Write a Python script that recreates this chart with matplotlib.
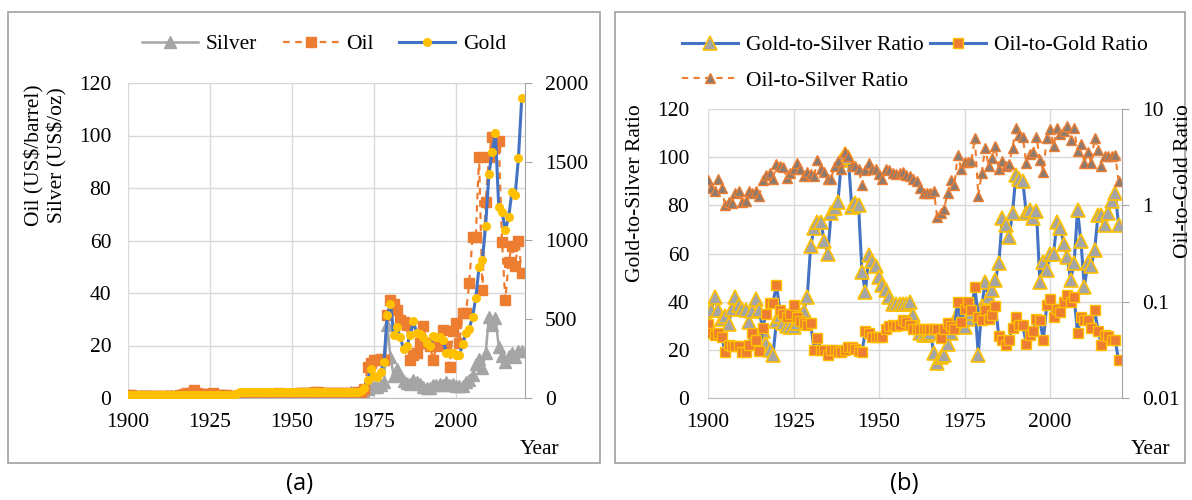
import numpy as np
import matplotlib.pyplot as plt
from matplotlib.patches import Rectangle
from matplotlib.lines import Line2D

plt.rcParams['font.family'] = ['Liberation Serif', 'DejaVu Serif']

# ---- data (end of year values, 1900-2020) ----
years = np.arange(1900, 2021)

gold = [20.67, 20.67, 20.67, 20.67, 20.67, 20.67, 20.67, 20.67, 20.67, 20.67,
        20.67, 20.67, 20.67, 20.67, 20.67, 20.67, 20.67, 20.67, 20.67, 20.67,
        20.67, 20.67, 20.67, 20.67, 20.67, 20.67, 20.67, 20.67, 20.67, 20.67,
        20.67, 20.67, 20.67, 26.33, 35, 35, 35, 35, 35, 35,
        35, 35, 35, 35, 35, 35, 35, 35, 35, 35,
        35, 35, 35, 35, 35, 35, 35, 35, 35, 35,
        35, 35, 35, 35, 35, 35, 35, 35, 41, 35,
        37, 43, 64, 114, 187, 140, 135, 165, 226, 524,
        600, 400, 448, 385, 309, 330, 400, 486, 410, 405,
        390, 350, 332, 392, 385, 385, 368, 288, 287, 288,
        273, 275, 340, 414, 440, 514, 634, 833, 874, 1095,
        1420, 1565, 1680, 1210, 1183, 1065, 1148, 1305, 1288, 1522, 1905]

silver = [0.62, 0.60, 0.53, 0.54, 0.58, 0.61, 0.68, 0.66, 0.53, 0.52,
          0.54, 0.54, 0.62, 0.60, 0.55, 0.51, 0.66, 0.82, 0.97, 1.12,
          1.02, 0.63, 0.68, 0.65, 0.67, 0.69, 0.62, 0.57, 0.59, 0.53,
          0.38, 0.29, 0.28, 0.35, 0.48, 0.64, 0.45, 0.45, 0.43, 0.39,
          0.35, 0.35, 0.38, 0.45, 0.45, 0.52, 0.80, 0.60, 0.75, 0.72,
          0.74, 0.89, 0.85, 0.85, 0.85, 0.91, 0.91, 0.91, 0.89, 0.91,
          0.91, 0.92, 1.08, 1.28, 1.29, 1.29, 1.29, 1.55, 2.14, 1.79,
          1.64, 1.39, 2.04, 3.28, 4.43, 4.21, 4.37, 4.82, 6.0, 28.0,
          15.5, 8.3, 11.0, 8.9, 6.3, 5.9, 5.4, 6.7, 6.1, 5.2,
          4.2, 3.9, 3.7, 5.1, 4.8, 5.2, 4.8, 6.0, 5.0, 5.3,
          4.6, 4.6, 4.7, 6.0, 6.8, 8.8, 12.9, 14.8, 11.3, 17.0,
          31.0, 28.0, 30.5, 19.5, 16.0, 13.8, 16.0, 17.0, 15.5, 18.0, 18.0]

oil = [1.19, 0.96, 0.80, 0.94, 0.86, 0.62, 0.73, 0.72, 0.72, 0.70,
       0.61, 0.61, 0.74, 0.95, 0.81, 0.64, 1.10, 1.56, 1.98, 2.01,
       3.07, 1.73, 1.61, 1.34, 1.43, 1.68, 1.88, 1.30, 1.17, 1.27,
       1.19, 0.65, 0.87, 0.67, 1.00, 0.97, 1.09, 1.18, 1.13, 1.02,
       1.02, 1.14, 1.19, 1.20, 1.21, 1.05, 1.75, 1.65, 1.52, 1.52,
       1.52, 1.52, 1.80, 1.97, 2.03, 1.97, 2.03, 2.27, 2.15, 2.03,
       1.80, 1.80, 1.80, 1.80, 1.80, 1.80, 1.80, 1.80, 1.80, 1.48,
       2.2, 2.4, 3.3, 11.8, 13.3, 14.5, 14.5, 15.0, 14.5, 31.6,
       37.3, 35.8, 33.5, 29.7, 29.0, 27.8, 14.5, 16.5, 17.0, 21.0,
       27.3, 21.0, 20.0, 14.5, 19.7, 21.0, 26.0, 19.7, 12.0, 25.4,
       28.6, 21.0, 32.4, 32.4, 43.8, 61.4, 61.4, 91.8, 41.0, 74.7,
       91.8, 99.5, 95.7, 98.0, 59.4, 37.3, 51.8, 58.0, 50.3, 60.0, 47.6]

gold_silver = [32.4, 36.5, 42, 36.5, 33, 34, 30.7, 37, 42, 38.5,
               37, 36.5, 31.6, 36, 41, 36.5, 28, 22.4, 20, 18,
               31.8, 34, 31, 30, 29.5, 29.5, 31, 34.5, 36, 42,
               63, 70.5, 73, 73, 65, 60, 77, 79, 81.5, 99,
               101.5, 100, 79.5, 81, 80, 52.5, 44, 59.5, 57, 55,
               50.3, 47, 45, 42, 39, 39, 39, 39, 39, 40,
               34.5, 29.5, 27, 26, 26, 27, 18.7, 14.5, 17, 18,
               22.5, 27, 32, 35, 38, 29.6, 33, 35.4, 38, 18,
               38, 48, 42, 45, 49, 56, 74.6, 72, 67, 77,
               92.6, 91, 90, 77, 78, 74.6, 77.5, 48, 56.5, 53,
               60, 60, 73, 70.5, 64, 58.6, 49, 56, 78, 65,
               46, 56, 55, 61.5, 76, 76, 72, 77, 82, 85, 72]

oil_gold = [0.0585, 0.0473, 0.0447, 0.0473, 0.0434, 0.0299, 0.0355, 0.0345, 0.0345, 0.0345,
            0.0299, 0.0299, 0.0355, 0.0473, 0.0398, 0.0307, 0.0531, 0.075, 0.0972, 0.0972,
            0.149, 0.0813, 0.075, 0.0692, 0.075, 0.0917, 0.0692, 0.0631, 0.0596, 0.0579,
            0.0596, 0.0316, 0.0422, 0.0316, 0.0316, 0.0282, 0.0316, 0.0316, 0.0299, 0.0299,
            0.0316, 0.0335, 0.0335, 0.0325, 0.0307, 0.0299, 0.0501, 0.0473, 0.0434, 0.0434,
            0.0434, 0.0434, 0.0516, 0.0562, 0.0579, 0.0562, 0.0579, 0.0649, 0.0613, 0.0579,
            0.0516, 0.0516, 0.0516, 0.0516, 0.0516, 0.0516, 0.0516, 0.0516, 0.0422, 0.0516,
            0.0596, 0.0562, 0.0516, 0.1, 0.0613, 0.0841, 0.1, 0.0818, 0.141, 0.0688,
            0.0646, 0.0818, 0.0668, 0.0729, 0.0891, 0.0439, 0.0398, 0.0355, 0.0398, 0.0531,
            0.0692, 0.0572, 0.0572, 0.0367, 0.0447, 0.0501, 0.0668, 0.0646, 0.0398, 0.0917,
            0.106, 0.0692, 0.0841, 0.078, 0.1, 0.117, 0.0983, 0.112, 0.0473, 0.0692,
            0.0646, 0.0646, 0.0531, 0.0818, 0.0501, 0.0355, 0.0447, 0.0439, 0.0398, 0.0398, 0.0248]

oil_silver = [1.83, 1.50, 1.41, 1.88, 1.50, 1.00, 1.09, 1.06, 1.33, 1.41,
              1.09, 1.12, 1.41, 1.33, 1.41, 1.26, 1.83, 2.06, 2.15, 1.88,
              2.66, 2.58, 2.51, 1.94, 2.15, 2.37, 2.74, 2.37, 2.00, 2.24,
              2.11, 2.00, 2.99, 2.37, 2.24, 1.88, 1.88, 2.58, 2.90, 2.37,
              3.55, 3.25, 2.58, 2.58, 2.37, 1.63, 2.30, 2.74, 2.37, 2.37,
              2.11, 1.88, 2.37, 2.30, 2.15, 2.11, 2.17, 2.24, 2.05, 2.00,
              1.88, 1.78, 1.50, 1.33, 1.33, 1.33, 1.41, 0.75, 0.841, 0.917,
              1.33, 1.83, 1.63, 3.35, 2.37, 2.82, 2.82, 2.90, 5.01, 1.26,
              2.15, 3.98, 2.58, 3.07, 4.10, 2.37, 2.90, 2.58, 2.66, 3.98,
              6.31, 5.31, 5.16, 2.74, 3.44, 3.55, 5.16, 2.99, 2.24, 5.01,
              6.13, 4.17, 6.31, 5.46, 5.96, 6.68, 4.73, 6.31, 3.65, 4.34,
              2.74, 3.55, 2.74, 5.01, 3.76, 2.58, 3.25, 3.27, 3.25, 3.35, 1.78]

BLUE = '#4472C4'
ORANGE = '#ED7D31'
GRAY = '#A5A5A5'
YELLOW = '#FFC000'
BROWN = '#8C7B70'
GRID = '#D9D9D9'
SPINE = '#A6A6A6'
FS = 15.5
W, H = 1192, 500


def fx(px):
    return px / W


def fy(py):
    return 1 - py / H


fig = plt.figure(figsize=(11.92, 5.0), dpi=100)

# panel frames
for x0, x1 in [(8, 600), (615, 1185)]:
    fig.patches.append(Rectangle((fx(x0), fy(463)), fx(x1 - x0), (463 - 12) / H,
                                 transform=fig.transFigure, fill=False,
                                 edgecolor='#A0A0A0', lw=1.2))


def style_axes(ax, axr, lpad, rpad):
    ax.set_xlim(1900, 2021)
    ax.set_xticks(np.arange(1900, 2001, 25))
    ax.grid(True, color=GRID, lw=1)
    ax.set_axisbelow(True)
    for s in ['top', 'left', 'right']:
        ax.spines[s].set_visible(False)
    ax.spines['bottom'].set_color('#BFBFBF')
    ax.tick_params(axis='x', length=0, pad=11, labelsize=FS)
    ax.tick_params(axis='y', length=0, pad=lpad, labelsize=FS)
    for s in ['top', 'left', 'bottom']:
        axr.spines[s].set_visible(False)
    axr.spines['right'].set_color(SPINE)
    axr.tick_params(axis='y', which='major', direction='out', length=5,
                    color=SPINE, pad=rpad, labelsize=FS)
    axr.tick_params(axis='y', which='minor', length=0)


# ---- panel (a) ----
ax1 = fig.add_axes([fx(128), fy(398), fx(525 - 128), (398 - 83) / H])
l_s, = ax1.plot(years, silver, color=GRAY, lw=1.8, marker='^', ms=8,
                mfc=GRAY, mec=GRAY)
l_o, = ax1.plot(years, oil, color=ORANGE, lw=1.6, ls=(0, (3, 2.5)), marker='s',
                ms=6.5, mfc=ORANGE, mec=ORANGE)
ax1.set_ylim(0, 120)
ax1.set_yticks(np.arange(0, 121, 20))
ax1b = ax1.twinx()
l_g, = ax1b.plot(years, gold, color=BLUE, lw=2.2, marker='o', ms=5.5,
                 mfc=YELLOW, mec=YELLOW)
ax1b.set_ylim(0, 2000)
ax1b.set_yticks(np.arange(0, 2001, 500))
style_axes(ax1, ax1b, 12, 9.5)

fig.legend([l_s, l_o, l_g], ['Silver', 'Oil', 'Gold'], loc='center',
           bbox_to_anchor=(fx(324), fy(44)), ncol=3, frameon=False, fontsize=FS,
           handlelength=2.6, handletextpad=0.35, columnspacing=1.2)

fig.text(fx(46), fy(155), 'Oil (US\\$/barrel)\nSilver (US\\$/oz)', rotation=90,
         ha='center', va='center', fontsize=FS, linespacing=1.2,
         multialignment='center')
fig.text(fx(540), fy(450), 'Year', ha='center', va='center', fontsize=FS)
fig.text(fx(300), fy(484), '(a)', ha='center', va='center', fontsize=17,
         family='Open Sans')

# ---- panel (b) ----
ax2 = fig.add_axes([fx(708), fy(398), fx(1122 - 708), (398 - 109) / H])
l_gs, = ax2.plot(years, gold_silver, color=BLUE, lw=2.2, marker='^', ms=10,
                 mfc=GRAY, mec=YELLOW, mew=1.2)
ax2.set_ylim(0, 120)
ax2.set_yticks(np.arange(0, 121, 20))
ax2b = ax2.twinx()
ax2b.set_yscale('log')
l_os, = ax2b.plot(years, oil_silver, color=ORANGE, lw=1.5, ls=(0, (3, 2.5)),
                  marker='^', ms=7, mfc=BROWN, mec=ORANGE, mew=1)
l_og, = ax2b.plot(years, oil_gold, color=BLUE, lw=2.2, marker='s', ms=7,
                  mfc=ORANGE, mec=YELLOW, mew=1)
ax2b.set_ylim(0.01, 10)
ax2b.set_yticks([0.01, 0.1, 1, 10])
ax2b.set_yticklabels(['0.01', '0.1', '1', '10'])
ax2b.yaxis.set_minor_locator(plt.NullLocator())
style_axes(ax2, ax2b, 13.5, 9.5)

fig.legend([l_gs, l_os, l_og],
           ['Gold-to-Silver Ratio', 'Oil-to-Silver Ratio', 'Oil-to-Gold Ratio'],
           loc='center', bbox_to_anchor=(fx(915), fy(63)), ncol=2, frameon=False,
           fontsize=FS, handlelength=2.6, handletextpad=0.35, columnspacing=0.3,
           labelspacing=0.7)

fig.text(fx(636), fy(193), 'Gold-to-Silver Ratio', rotation=90, ha='center',
         va='center', fontsize=FS)
fig.text(fx(1183), fy(181), 'Oil-to-Gold Ratio', rotation=90, ha='center',
         va='center', fontsize=FS)
fig.text(fx(1151), fy(450), 'Year', ha='center', va='center', fontsize=FS)
fig.text(fx(904), fy(484), '(b)', ha='center', va='center', fontsize=17,
         family='Open Sans')

fig.savefig('out.png', dpi=100)
